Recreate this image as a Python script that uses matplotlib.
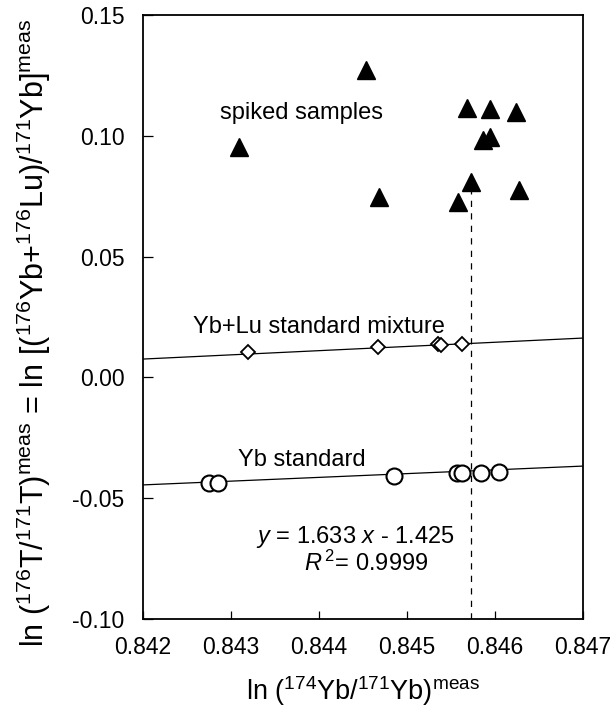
import matplotlib
matplotlib.use('Agg')
import matplotlib.pyplot as plt
import numpy as np

plt.rcParams['font.family'] = ['Liberation Sans', 'DejaVu Sans']
plt.rcParams['mathtext.fontset'] = 'custom'
plt.rcParams['mathtext.rm'] = 'Liberation Sans'
plt.rcParams['mathtext.it'] = 'Liberation Sans:italic'

# ── Data ──
spiked_x = [0.84454, 0.84309, 0.84568, 0.84594, 0.84624, 0.84586,
            0.84594, 0.84468, 0.84573, 0.84558, 0.84627]
spiked_y = [0.1272, 0.0955, 0.1114, 0.1110, 0.1100, 0.0985,
            0.0996, 0.0748, 0.0810, 0.0727, 0.0778]

mix_x = [0.84320, 0.84467, 0.84536, 0.84539, 0.84563]
mix_y = [0.0106, 0.0127, 0.0137, 0.0134, 0.0137]

yb_x = [0.84275, 0.84286, 0.84485, 0.84557, 0.84563, 0.84584, 0.84605]
yb_y = [-0.0439, -0.0439, -0.0409, -0.0397, -0.0397, -0.0395, -0.0391]

# fitted lines: (y at x=0.842, y at x=0.847)
line_x = [0.842, 0.847]
mix_line = [0.0076, 0.0163]
yb_line = [-0.0445, -0.0367]

# reference x of the spiked sample at the dashed line
dash_x = 0.84573
dash_top = 0.0810

xticks = [0.842, 0.843, 0.844, 0.845, 0.846, 0.847]
yticks = [-0.10, -0.05, 0.00, 0.05, 0.10, 0.15]

fig = plt.figure(figsize=(6.13, 7.20), dpi=100)
ax = fig.add_axes([0.2325, 0.1403, 0.7185, 0.8387])

ax.plot(line_x, mix_line, color='black', lw=0.9, zorder=1)
ax.plot(line_x, yb_line, color='black', lw=0.9, zorder=1)
ax.plot([dash_x, dash_x], [-0.10, dash_top], color='black', lw=0.9,
        ls=(0, (5, 5)), zorder=1)

ax.plot(spiked_x, spiked_y, ls='none', marker='^', ms=12.5,
        color='black', zorder=3)
ax.plot(mix_x, mix_y, ls='none', marker='D', ms=6.8, mfc='white',
        mec='black', mew=1.3, zorder=3)
ax.plot(yb_x, yb_y, ls='none', marker='o', ms=11.5, mfc='white',
        mec='black', mew=1.5, zorder=3)

ax.text(0.84381, 0.1093, 'spiked samples', ha='center', va='center', fontsize=17)
ax.text(0.84257, 0.0208, 'Yb+Lu standard mixture', ha='left', va='center', fontsize=17)
ax.text(0.84308, -0.0342, 'Yb standard', ha='left', va='center', fontsize=17)
ax.text(0.84442, -0.0661, r'$y$ = 1.633 $x$ - 1.425', ha='center', va='center', fontsize=17)
ax.text(0.84454, -0.0769, r'$R^{\,2}$= 0.9999', ha='center', va='center', fontsize=17)

ax.set_xlim(0.842, 0.847)
ax.set_ylim(-0.10, 0.15)
ax.set_xticks(xticks)
ax.set_xticklabels(['%.3f' % v for v in xticks])
ax.set_yticks(yticks)
ax.set_yticklabels(['%.2f' % v for v in yticks])
ax.tick_params(axis='x', direction='in', length=6, width=0.9, pad=12, labelsize=16.5)
ax.tick_params(axis='y', direction='in', length=7, width=0.9, pad=13, labelsize=16.5)
for s in ax.spines.values():
    s.set_linewidth(1.3)

ax.set_xlabel(r'ln ($^{174}$Yb/$^{171}$Yb)$^{\rm meas}$', fontsize=19.5, labelpad=11)
ax.set_ylabel(r'ln ($^{176}$T/$^{171}$T)$^{\rm meas}$ = ln [($^{176}$Yb+$^{176}$Lu)/$^{171}$Yb]$^{\rm meas}$',
              fontsize=22, family=['Liberation Sans Narrow', 'Liberation Sans'])
ax.yaxis.set_label_coords(-0.204, 0.474)

fig.savefig('out.png', dpi=100, facecolor='white')
